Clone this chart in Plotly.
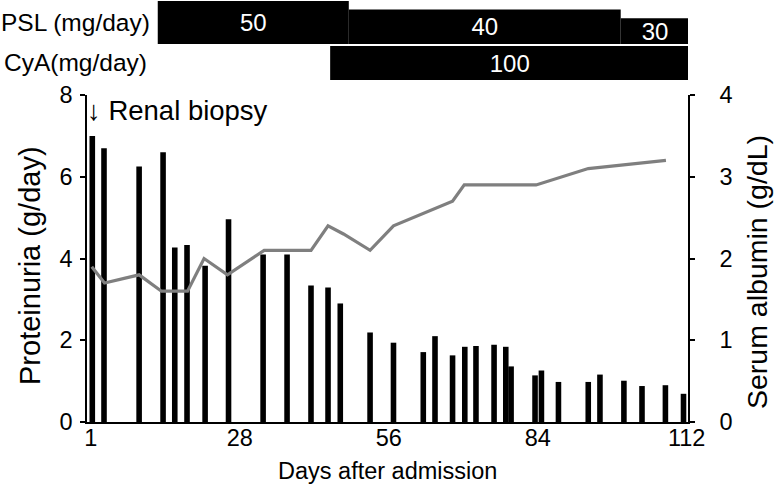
import plotly.graph_objects as go

# ---- data (x in axis units: first tick labelled "1") ----
prot_day = [0.3, 2.5, 9.1, 13.6, 15.8, 18.1, 21.5, 25.9, 32.4, 36.9, 41.4, 44.6, 46.9,
            52.5, 56.9, 62.5, 64.7, 68.0, 70.3, 72.4, 75.8, 78.0, 79.0, 83.5, 84.7,
            87.9, 93.5, 95.7, 100.2, 103.6, 108.0, 111.4]
proteinuria = [7.0, 6.7, 6.25, 6.6, 4.27, 4.33, 3.82, 4.96, 4.1, 4.1, 3.34, 3.29, 2.9,
               2.19, 1.94, 1.71, 2.1, 1.63, 1.84, 1.86, 1.89, 1.84, 1.36, 1.14, 1.26,
               0.98, 0.98, 1.16, 1.01, 0.88, 0.9, 0.69]

alb_day = [0.2, 2.6, 9.1, 13.3, 18.2, 21.3, 25.7, 32.6, 41.4, 44.6, 47.5, 52.5, 56.9,
           68.0, 70.2, 83.7, 93.5, 108.1]
albumin = [1.9, 1.7, 1.8, 1.6, 1.6, 2.0, 1.8, 2.1, 2.1, 2.4, 2.3, 2.1, 2.4,
           2.7, 2.9, 2.9, 3.1, 3.2]

psl_start = [12.6, 48.5, 99.6]
psl_end = [48.5, 99.6, 112.5]
psl_dose = [50, 40, 30]

cya_start = [45.0]
cya_end = [112.5]
cya_dose = [100]

biopsy_day = 0.3

tick_vals = [0, 28, 56, 84, 112]
tick_text = ["1", "28", "56", "84", "112"]

FONT = "Liberation Sans, Arial, sans-serif"

fig = go.Figure()

fig.add_trace(go.Bar(x=prot_day, y=proteinuria, width=1.05, marker=dict(color="black", line=dict(width=0)),
                     xaxis="x", yaxis="y", showlegend=False))
fig.add_trace(go.Scatter(x=alb_day, y=albumin, mode="lines", line=dict(color="#7f7f7f", width=3.2),
                         xaxis="x", yaxis="y2", showlegend=False))

fig.add_trace(go.Bar(
    orientation="h",
    base=psl_start,
    x=[e - s for s, e in zip(psl_start, psl_end)],
    y=[d / 2 for d in psl_dose],
    width=psl_dose,
    text=[str(d) for d in psl_dose],
    textposition="inside", insidetextanchor="middle", constraintext="none", textangle=0,
    textfont=dict(color="white", size=24, family=FONT),
    marker=dict(color="black", line=dict(width=0)),
    xaxis="x", yaxis="y3", showlegend=False))

fig.add_trace(go.Bar(
    orientation="h",
    base=cya_start,
    x=[e - s for s, e in zip(cya_start, cya_end)],
    y=[0.5],
    width=[1],
    text=[str(d) for d in cya_dose],
    textposition="inside", insidetextanchor="middle", constraintext="none", textangle=0,
    textfont=dict(color="white", size=24, family=FONT),
    marker=dict(color="black", line=dict(width=0)),
    xaxis="x", yaxis="y4", showlegend=False))

L, R, T, B = 87, 86, 1, 63
W, H = 774, 485
pw = W - L - R
ph = H - T - B
px_per_day = 5.3214
x0_px = 90.7
xr = [(L - x0_px) / px_per_day, (W - R - x0_px) / px_per_day]


def fy(py):
    return (H - B - py) / ph


def fx(px):
    return (px - L) / pw


main_dom = [0, fy(95)]

fig.update_layout(
    width=W, height=H,
    margin=dict(l=L, r=R, t=T, b=B, pad=0, autoexpand=False),
    paper_bgcolor="white", plot_bgcolor="white",
    barmode="overlay",
    font=dict(family=FONT, color="black", size=23),
    xaxis=dict(range=xr, tickvals=tick_vals, ticktext=tick_text, showgrid=False, zeroline=False,
               showline=True, linecolor="black", linewidth=1.5, ticks="", anchor="y",
               tickfont=dict(size=23.5), ticklabelstandoff=-6, automargin=False),
    yaxis=dict(domain=main_dom, range=[0, 8], tickvals=[0, 2, 4, 6, 8], showgrid=False, zeroline=False,
               showline=True, linecolor="black", linewidth=1.5, ticks="outside", ticklen=5,
               tickcolor="black", tickwidth=1.5, tickfont=dict(size=23.5), ticklabelstandoff=3,
               anchor="x", automargin=False),
    yaxis2=dict(domain=main_dom, range=[0, 4], tickvals=[0, 1, 2, 3, 4], overlaying="y", side="right",
                showgrid=False, zeroline=False, showline=True, linecolor="black", linewidth=1.5,
                ticks="outside", ticklen=5, tickcolor="black", tickwidth=1.5,
                tickfont=dict(size=23.5), ticklabelstandoff=20, anchor="x", automargin=False),
    yaxis3=dict(domain=[fy(44), fy(1)], range=[0, 50], visible=False, anchor="x"),
    yaxis4=dict(domain=[fy(80), fy(46)], range=[0, 1], visible=False, anchor="x"),
)

ann = [
    dict(text="Proteinuria (g/day)", x=fx(30), y=fy(266), xref="paper", yref="paper",
         textangle=-90, showarrow=False, font=dict(size=29), xanchor="center", yanchor="middle"),
    dict(text="Serum albumin (g/dL)", x=fx(757), y=fy(272), xref="paper", yref="paper",
         textangle=-90, showarrow=False, font=dict(size=28.5), xanchor="center", yanchor="middle"),
    dict(text="Days after admission", x=fx(387), y=fy(471), xref="paper", yref="paper",
         showarrow=False, font=dict(size=23.5), xanchor="center", yanchor="middle"),
    dict(text="PSL (mg/day)", x=fx(-1), y=fy(22), xref="paper", yref="paper",
         showarrow=False, font=dict(size=24.5), xanchor="left", yanchor="middle"),
    dict(text="CyA(mg/day)", x=fx(2), y=fy(62), xref="paper", yref="paper",
         showarrow=False, font=dict(size=24.5), xanchor="left", yanchor="middle"),
    dict(text="↓ Renal biopsy", x=biopsy_day, y=7.62, xref="x", yref="y", xshift=-7,
         showarrow=False, font=dict(size=27.5), xanchor="left", yanchor="middle"),
]
fig.update_layout(annotations=ann)

fig.write_html("out.html", config={"displayModeBar": False},
               post_script="document.body.style.margin='0';")
